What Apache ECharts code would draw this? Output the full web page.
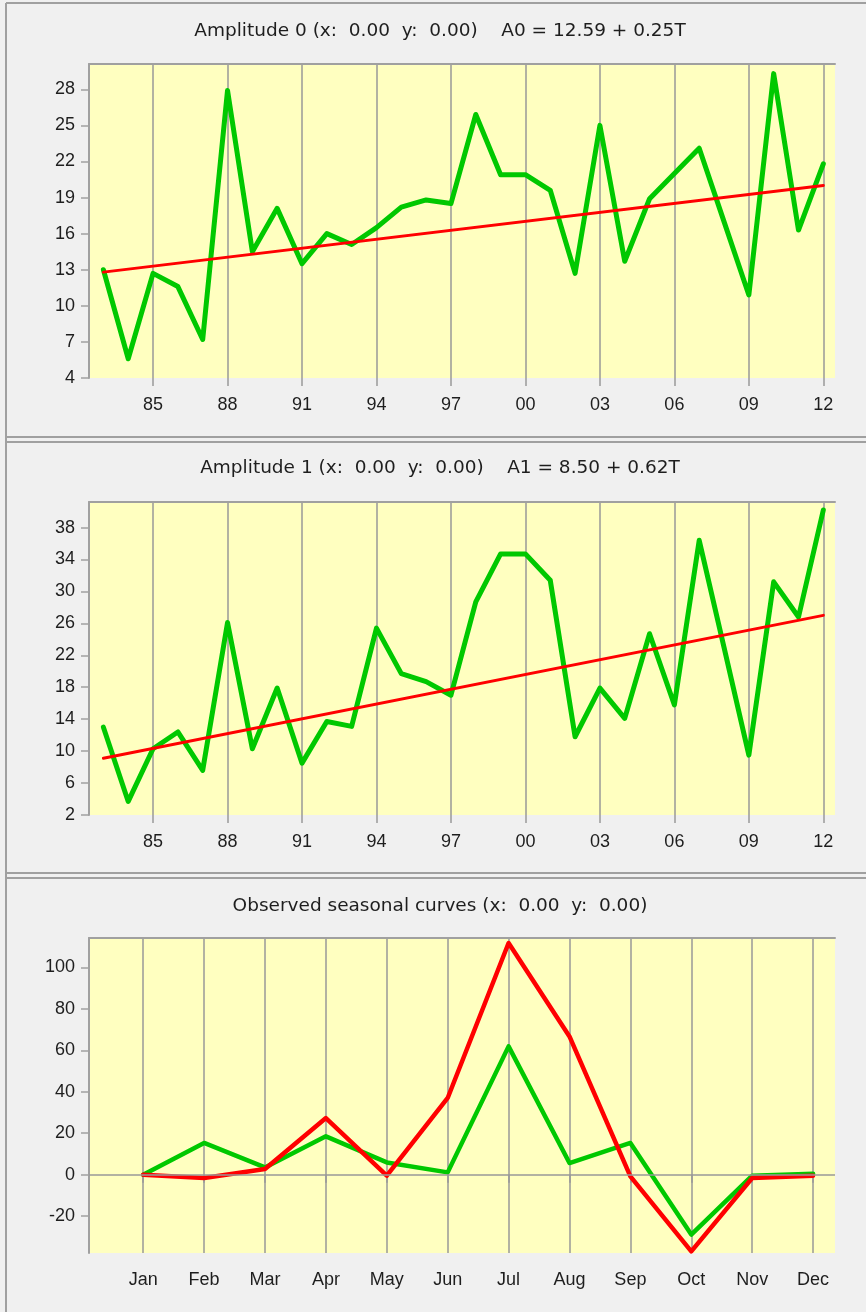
<!DOCTYPE html>
<html><head><meta charset="utf-8">
<script src="https://cdn.jsdelivr.net/npm/echarts@6/dist/echarts.min.js"></script>
<style>html,body{margin:0;padding:0;background:#f0f0f0}#c{width:866px;height:1312px}</style>
</head><body><div id="c"></div>
<script>
// ---------- data ----------
const titles = [
  'Amplitude 0 (x:  0.00  y:  0.00)    A0 = 12.59 + 0.25T',
  'Amplitude 1 (x:  0.00  y:  0.00)    A1 = 8.50 + 0.62T',
  'Observed seasonal curves (x:  0.00  y:  0.00)'
];
const years = [1983,1984,1985,1986,1987,1988,1989,1990,1991,1992,1993,1994,1995,1996,1997,
               1998,1999,2000,2001,2002,2003,2004,2005,2006,2007,2008,2009,2010,2011,2012];
const amp0 = [13.0,5.6,12.7,11.6,7.2,27.9,14.5,18.1,13.5,16.0,15.1,16.5,18.2,18.8,18.5,
              25.9,20.9,20.9,19.6,12.7,25.0,13.7,18.9,21.0,23.1,17.0,10.9,29.3,16.3,21.8];
const amp0Trend = [12.8, 20.0];   // first year, last year
const amp1 = [13.0,3.7,10.3,12.4,7.6,26.1,10.3,17.9,8.5,13.7,13.1,25.4,19.7,18.7,17.0,
              28.7,34.7,34.7,31.4,11.8,17.9,14.1,24.7,15.8,36.4,23.0,9.5,31.2,26.8,40.2];
const amp1Trend = [9.1, 27.0];
const yearTicks = [1985,1988,1991,1994,1997,2000,2003,2006,2009,2012];
const amp0Ticks = [4,7,10,13,16,19,22,25,28];
const amp1Ticks = [2,6,10,14,18,22,26,30,34,38];
const months = ['Jan','Feb','Mar','Apr','May','Jun','Jul','Aug','Sep','Oct','Nov','Dec'];
const seasonalGreen = [0,15.3,3.5,18.5,5.9,1.1,61.9,5.6,15.3,-28.9,-0.5,0.5];
const seasonalRed   = [0,-1.6,2.7,27.3,-0.5,37.0,111.8,66.7,-0.8,-37.0,-1.6,-0.5];
const seasonalTicks = [-20,0,20,40,60,80,100];

// ---------- chart ----------
const GREEN = '#00c800', RED = '#ff0000', GRAY = '#a0a0a0', GRID = '#999999', TXT = '#1e1e1e';
const FONT = '"Liberation Sans", Arial, sans-serif';
const TFONT = '"DejaVu Sans", Verdana, sans-serif';
const grids = [
  {left: 89, top: 64, width: 746, height: 314},
  {left: 89, top: 502, width: 746, height: 313},
  {left: 89, top: 938, width: 746, height: 315}
].map(g => Object.assign(g, {show: true, backgroundColor: '#ffffc0', borderWidth: 0}));

const xRanges = [[1982.42, 2012.47], [1982.42, 2012.47], [0.11, 12.36]];
const yRanges = [[4, 30.1], [2, 41.2], [-37.8, 114.2]];
const xTickSets = [yearTicks, yearTicks, months.map((m, i) => i + 1)];
const yTickSets = [amp0Ticks, amp1Ticks, seasonalTicks];
const xFormat = [
  v => String(v).slice(2), v => String(v).slice(2), v => months[Math.round(v) - 1]
];

const xAxis = [], yAxis = [];
for (let i = 0; i < 3; i++) {
  xAxis.push({
    gridIndex: i, type: 'value', min: xRanges[i][0], max: xRanges[i][1],
    axisLine: {show: false},
    axisTick: {show: true, customValues: xTickSets[i], length: 8, lineStyle: {color: GRID, width: 1.5}},
    axisLabel: {customValues: xTickSets[i], formatter: xFormat[i], margin: 18,
                fontSize: 18, fontFamily: FONT, color: TXT},
    splitLine: {show: true, lineStyle: {color: GRID, width: 1.5}}
  });
  xAxis.push({
    gridIndex: i, type: 'value', position: 'top', min: xRanges[i][0], max: xRanges[i][1],
    axisLine: {show: true, onZero: false, lineStyle: {color: GRAY, width: 2}},
    axisTick: {show: false}, axisLabel: {show: false}, splitLine: {show: false}
  });
  yAxis.push({
    gridIndex: i, type: 'value', min: yRanges[i][0], max: yRanges[i][1],
    axisLine: {show: true, onZero: false, lineStyle: {color: GRAY, width: 2}},
    axisTick: {show: true, customValues: yTickSets[i], length: 8, lineStyle: {color: GRAY, width: 1.5}},
    axisLabel: {customValues: yTickSets[i], margin: 14, fontSize: 18, fontFamily: FONT, color: TXT},
    splitLine: {show: false}
  });
}

function lineSeries(gi, data, color, width, extra) {
  return Object.assign({
    type: 'line', xAxisIndex: gi * 2, yAxisIndex: gi, data: data,
    showSymbol: false, symbol: 'none', silent: true, animation: false,
    lineStyle: {color: color, width: width, join: 'round', cap: 'round'}
  }, extra || {});
}
const last = years.length - 1;
const series = [
  lineSeries(0, years.map((y, i) => [y, amp0[i]]), GREEN, 5),
  lineSeries(0, [[years[0], amp0Trend[0]], [years[last], amp0Trend[1]]], RED, 3),
  lineSeries(1, years.map((y, i) => [y, amp1[i]]), GREEN, 5),
  lineSeries(1, [[years[0], amp1Trend[0]], [years[last], amp1Trend[1]]], RED, 3),
  lineSeries(2, months.map((m, i) => [i + 1, seasonalGreen[i]]), GREEN, 4.5, {
    markLine: {silent: true, symbol: 'none', label: {show: false},
               lineStyle: {color: GRID, width: 1.5, type: 'solid'}, data: [{yAxis: 0}]}
  }),
  lineSeries(2, months.map((m, i) => [i + 1, seasonalRed[i]]), RED, 4.5)
];

const titleY = [31, 468, 906];
const graphic = titles.map((t, i) => ({
  type: 'text', x: 440, y: titleY[i], silent: true,
  style: {text: t, fill: TXT, font: '18.5px ' + TFONT, textAlign: 'center', textVerticalAlign: 'middle'}
}));
const border = (shape) => ({type: 'line', shape, silent: true, style: {stroke: GRAY, lineWidth: 2}});
graphic.push(
  border({x1: 6, y1: 3, x2: 6, y2: 1312}),
  border({x1: 6, y1: 3, x2: 866, y2: 3}),
  border({x1: 6, y1: 437, x2: 866, y2: 437}),
  border({x1: 6, y1: 442, x2: 866, y2: 442}),
  border({x1: 6, y1: 873, x2: 866, y2: 873}),
  border({x1: 6, y1: 878, x2: 866, y2: 878})
);

const chart = echarts.init(document.getElementById('c'), null, {renderer: 'canvas'});
chart.setOption({
  animation: false, backgroundColor: '#f0f0f0',
  grid: grids, xAxis, yAxis, series, graphic
});
</script></body></html>
